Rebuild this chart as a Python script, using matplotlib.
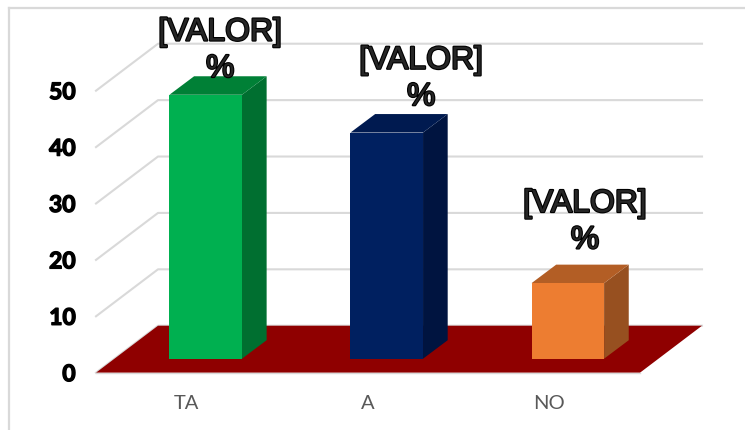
#!/usr/bin/env python3
"""3D-look column chart (TA / A / NO) drawn with an oblique projection."""
import matplotlib as mpl
mpl.use("Agg")
import matplotlib.pyplot as plt
import matplotlib.patheffects as pe
from matplotlib.patches import Polygon

CATEGORIES = ["TA", "A", "NO"]
VALUES = [46.8, 40.1, 13.4]
Y_TICKS = [0, 10, 20, 30, 40, 50]
VALUE_LABELS = ["[VALOR]\n%", "[VALOR]\n%", "[VALOR]\n%"]
FRONT = ["#00B050", "#002060", "#ED7D31"]
SIDE = ["#006F30", "#001440", "#975020"]
TOP = ["#008036", "#001A50", "#B35E25"]

W, H = 745, 430
# pixel calibration of the front plane
X0_PX, X_UNIT = 96.0, 181.33
Y0_PX, Y_UNIT = 372.7, 5.64
FLOOR_DX, FLOOR_DY = 0.342, 8.33
BAR_W, BAR_LEFT = 0.40, 0.405
BAR_BASE = 2.48
BAR_DX, BAR_DY = 0.136, 3.28
GRID = "#D9D9D9"
# hand-moved data labels, offset from the bar's front top centre
LABEL_DX = [0.08, 0.19, 0.095]
LABEL_DY = [7.8, 9.5, 10.8]

fig = plt.figure(figsize=(W / 100, H / 100), dpi=100, facecolor="white")
ax = fig.add_axes([0, 0, 1, 1])
ax.set_xlim(-X0_PX / X_UNIT, (W - X0_PX) / X_UNIT)
ax.set_ylim((Y0_PX - H) / Y_UNIT, Y0_PX / Y_UNIT)
ax.axis("off")

# outer chart frame, only top and left survive the crop
ax.plot([9 / W, 9 / W], [0, 1 - 7.5 / H], color=GRID, lw=1.6, transform=ax.transAxes, clip_on=False)
ax.plot([9 / W, 1], [1 - 7.5 / H, 1 - 7.5 / H], color=GRID, lw=1.6, transform=ax.transAxes, clip_on=False)

# walls
for v in Y_TICKS:
    ax.plot([0, FLOOR_DX, 3 + FLOOR_DX], [v, v + FLOOR_DY, v + FLOOR_DY], color=GRID, lw=1.5, zorder=1)
    ax.text(-0.112, v - 0.35, str(v), ha="right", va="center", fontsize=16.5,
            family="Lato", weight="bold", color="black",
            path_effects=[pe.withStroke(linewidth=1.0, foreground="black")])

# floor
ax.add_patch(Polygon([(0, 0), (FLOOR_DX, FLOOR_DY), (3 + FLOOR_DX, FLOOR_DY), (3, 0)],
                     facecolor="#8F0000", edgecolor="none", zorder=2))
ax.plot([0, 3], [0, 0], color=GRID, lw=1.0, zorder=2)

for i, (cat, val, lab) in enumerate(zip(CATEGORIES, VALUES, VALUE_LABELS)):
    x0 = BAR_LEFT + i * 0.9985
    x1 = x0 + BAR_W
    y0 = BAR_BASE
    y1 = BAR_BASE + val
    ax.add_patch(Polygon([(x1, y0), (x1 + BAR_DX, y0 + BAR_DY), (x1 + BAR_DX, y1 + BAR_DY), (x1, y1)],
                         facecolor=SIDE[i], edgecolor="none", zorder=3))
    ax.add_patch(Polygon([(x0, y1), (x0 + BAR_DX, y1 + BAR_DY), (x1 + BAR_DX, y1 + BAR_DY), (x1, y1)],
                         facecolor=TOP[i], edgecolor="none", zorder=3))
    ax.bar(x0, val, BAR_W, bottom=y0, align="edge", color=FRONT[i], zorder=4)
    ax.text(x0 + BAR_W / 2 + LABEL_DX[i], y1 + LABEL_DY[i], lab, ha="center", va="center",
            fontsize=23, family="Liberation Sans", color="#262626", linespacing=1.28, zorder=6,
            path_effects=[pe.withStroke(linewidth=1.6, foreground="black")])
    ax.text(i + 0.5, -5.5, cat, ha="center", va="center", fontsize=14.5,
            family="Lato", color="#595959", zorder=6)

fig.savefig("out.png", dpi=100, facecolor="white")
